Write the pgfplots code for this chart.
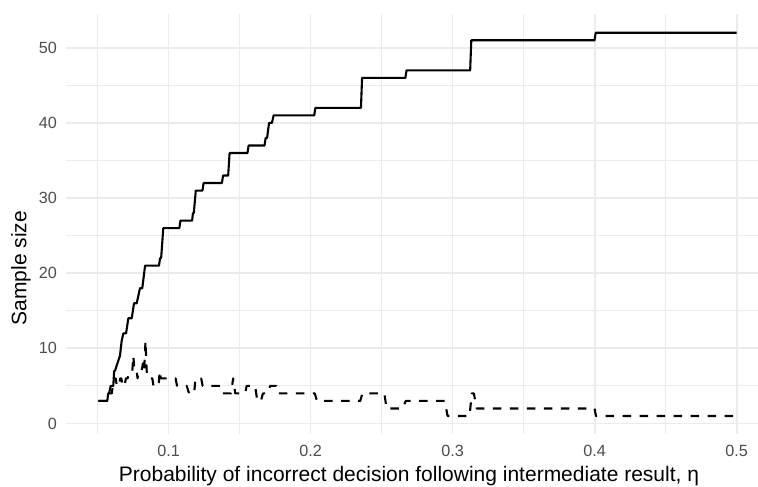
\documentclass[border=0pt]{standalone}
\usepackage{fontspec}
\setmainfont{Liberation Sans}
\usepackage{pgfplots}
\pgfplotsset{compat=1.18}
\definecolor{gridc}{HTML}{EBEBEB}
\definecolor{tickc}{HTML}{4D4D4D}
\begin{document}
\begin{tikzpicture}
\begin{axis}[
  at={(0pt,0pt)}, anchor=south west,
  scale only axis, width=692pt, height=420pt,
  xmin=0.0278, xmax=0.5151, ymin=-1.4, ymax=54.5,
  axis line style={draw=none},
  major tick length=0pt, minor tick length=0pt,
  tick style={draw=none},
  xtick={0.1,0.2,0.3,0.4,0.5},
  xticklabels={0.1,0.2,0.3,0.4,0.5},
  minor xtick={0.05,0.15,0.25,0.35,0.45},
  ytick={0,10,20,30,40,50},
  minor ytick={5,15,25,35,45},
  grid=both,
  major grid style={draw=gridc, line width=1.9pt},
  minor grid style={draw=gridc, line width=1.0pt},
  /pgf/number format/assume math mode=true,
  tick label style={font=\fontsize{16.2}{19}\selectfont, text=tickc},
  xticklabel style={anchor=north, inner sep=0pt, yshift=-11pt},
  yticklabel style={anchor=east, inner sep=0pt, xshift=-9pt},
  xlabel={Probability of incorrect decision following intermediate result, η},
  ylabel={Sample size},
  label style={font=\fontsize{21}{25}\selectfont},
  xlabel style={at={(axis description cs:0.4957,-0.1120)}, anchor=base, inner sep=0pt},
  ylabel style={at={(axis description cs:-0.0650,0.395)}, anchor=center, inner sep=0pt},
]
\addplot[black, line width=2.1pt, line join=round] coordinates {
(0.0506,3) (0.0569,3) (0.0575,4) (0.0581,4) (0.0593,5) (0.0611,5) (0.0617,7) (0.0623,7)
(0.0640,8) (0.0658,9) (0.0670,11) (0.0682,12) (0.0701,12) (0.0717,14) (0.0741,14)
(0.0757,16) (0.0776,16) (0.0799,18) (0.0815,18) (0.0835,21) (0.0933,21) (0.0940,22)
(0.0948,22) (0.0963,26) (0.1076,26) (0.1084,27) (0.1166,27) (0.1172,28) (0.1178,28)
(0.1192,31) (0.1239,31) (0.1247,32) (0.1376,32) (0.1384,33) (0.1420,33) (0.1430,36)
(0.1556,36) (0.1564,37) (0.1676,37) (0.1684,38) (0.1694,38) (0.1708,40) (0.1728,40)
(0.1740,41) (0.2026,41) (0.2034,42) (0.2355,42) (0.2363,46) (0.2668,46) (0.2676,47)
(0.3124,47) (0.3132,51) (0.4000,51) (0.4008,52) (0.5000,52)
};
\addplot[black, line width=2.1pt, line join=round, dash pattern=on 8.5pt off 8.5pt] coordinates {
(0.0506,3) (0.0569,3) (0.0575,4) (0.0600,4) (0.0608,5) (0.0620,5) (0.0628,6) (0.0636,5)
(0.0650,5) (0.0660,6) (0.0668,6) (0.0676,5) (0.0690,5) (0.0700,6) (0.0712,6) (0.0725,7)
(0.0745,7) (0.0752,9) (0.0760,7) (0.0775,7) (0.0782,6) (0.0790,7) (0.0810,7) (0.0820,8)
(0.0828,7) (0.0838,11) (0.0846,7) (0.0856,6) (0.0886,6) (0.0894,5) (0.0930,5) (0.0938,7)
(0.0946,6) (0.1050,6) (0.1060,5) (0.1128,5) (0.1145,4) (0.1180,4) (0.1190,6) (0.1230,6)
(0.1240,5) (0.1365,5) (0.1380,4) (0.1440,4) (0.1455,6) (0.1470,4) (0.1540,4) (0.1550,5)
(0.1610,5) (0.1625,3) (0.1650,3) (0.1665,4) (0.1700,4) (0.1715,5) (0.1760,5) (0.1770,4)
(0.2030,4) (0.2045,3) (0.2350,3) (0.2365,4) (0.2520,4) (0.2535,2) (0.2650,2) (0.2670,3)
(0.2945,3) (0.2965,1) (0.3120,1) (0.3135,4) (0.3150,4) (0.3170,2) (0.4000,2) (0.4010,1)
(0.5000,1)
};
\end{axis}
\pgfresetboundingbox
\useasboundingbox (-66pt,-53pt) rectangle (692pt,434pt);
\end{tikzpicture}
\end{document}
